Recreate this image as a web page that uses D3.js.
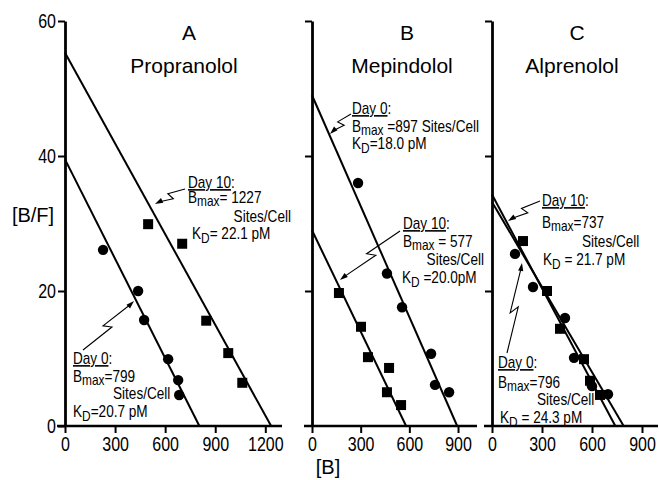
<!DOCTYPE html>
<html>
<head>
<meta charset="utf-8">
<script src="https://cdn.jsdelivr.net/npm/d3@7"></script>
<style>
  body { margin: 0; background: #fff; }
  svg { display: block; }
  text { font-family: "Liberation Sans", Arial, sans-serif; fill: #000; }
  .tick text { font-size: 20px; }
</style>
</head>
<body>
<div id="chart"></div>
<script>
// panel letters and drug names
const panelLetters = ["A", "B", "C"];
const drugNames = ["Propranolol", "Mepindolol", "Alprenolol"];
const yTicks = [0, 20, 40, 60];
const xTicksA = [0, 300, 600, 900, 1200];
const xTicksB = [0, 300, 600, 900];
const xTicksC = [0, 300, 600, 900];

// Scatchard points [B, B/F]; day 0 = circles, day 10 = squares
const aDay0 = [[228, 26.1], [438, 20.0], [474, 15.7], [618, 9.9], [678, 6.8], [684, 4.6]];
const aDay10 = [[498, 29.9], [702, 27.0], [846, 15.6], [978, 10.8], [1062, 6.4]];
const bDay0 = [[284, 36.0], [462, 22.6], [555, 17.6], [734, 10.7], [758, 6.1], [845, 5.0]];
const bDay10 = [[166, 19.7], [302, 14.7], [345, 10.2], [475, 8.6], [462, 5.0], [549, 3.1]];
const cDay0 = [[138, 25.5], [246, 20.6], [438, 16.0], [492, 10.1], [600, 5.9], [696, 4.7]];
const cDay10 = [[186, 27.4], [330, 20.0], [408, 14.4], [552, 9.9], [588, 6.7], [648, 4.6]];

// fitted lines [y-intercept, Bmax]: day 0, day 10
const fitA = [[39.5, 805], [55.3, 1235]];
const fitB = [[49.0, 895], [29.0, 580]];
const fitC = [[33.2, 790], [34.3, 740]];

// annotation text: [day, text after B_max, text after K_D]
const notesA = [["Day 0", "=799", "=20.7 pM"], ["Day 10", "= 1227", "= 22.1 pM"]];
const notesB = [["Day 0", " =897 Sites/Cell", "=18.0 pM"], ["Day 10", " = 577", " =20.0pM"]];
const notesC = [["Day 0", "=796", " = 24.3 pM"], ["Day 10", "=737", " = 21.7 pM"]];

const width = 659, height = 480;
const svg = d3.select("#chart").append("svg")
  .attr("width", width).attr("height", height);

const y = d3.scaleLinear().domain([0, 60]).range([426, 21]);

const panels = [
  { xd: [0, 1300], xr: [65, 282], ticks: xTicksA, pts: [aDay0, aDay10], fit: fitA, notes: notesA, labels: true },
  { xd: [0, 1017], xr: [312, 477], ticks: xTicksB, pts: [bDay0, bDay10], fit: fitB, notes: notesB, labels: false },
  { xd: [0, 996], xr: [492, 658], ticks: xTicksC, pts: [cDay0, cDay10], fit: fitC, notes: notesC, labels: false }
];

// where each annotation block sits, and its arrow (text end -> line end)
const noteLayout = [
  [ // A
    { day: [73, 364], bmax: [73, 382], sites: [113, 399, "start"], kd: [73, 417], arrow: [83, 350, 134, 301] },
    { day: [188, 188], bmax: [188, 203], sites: [291, 222, "end"], kd: [192, 239], arrow: [185, 189, 155, 204] }
  ],
  [ // B
    { day: [352, 114], bmax: [352, 132], sites: null, kd: [352, 149], arrow: [351, 114, 330, 134] },
    { day: [403, 229], bmax: [403, 247], sites: [484, 265, "end"], kd: [402, 283], arrow: [400, 231, 340, 280] }
  ],
  [ // C
    { day: [498, 368], bmax: [498, 388], sites: [537, 405, "start"], kd: [500, 423], arrow: [507, 353, 522, 263] },
    { day: [542, 206], bmax: [542, 228], sites: [582, 247, "start"], kd: [543, 265], arrow: [540, 201, 508, 221] }
  ]
];

// narrow the regular font so it looks like the condensed lettering of the figure
function squeeze(sel, f) {
  sel.each(function () {
    const s = d3.select(this);
    const x0 = +s.attr("x") || 0;
    s.attr("x", x0 / f).attr("transform", `scale(${f},1)`);
  });
}

function zigArrow(g, x1, y1, x2, y2) {
  const dx = x2 - x1, dy = y2 - y1;
  const len = Math.hypot(dx, dy);
  const ux = dx / len, uy = dy / len;
  const nx = -uy, ny = ux;
  const p = t => [x1 + dx * t, y1 + dy * t];
  const m1 = p(0.52), m2 = p(0.44);
  const pts = [[x1, y1],
    [m1[0] + nx * 3.5, m1[1] + ny * 3.5],
    [m2[0] - nx * 3.5, m2[1] - ny * 3.5],
    [x2 - ux * 5, y2 - uy * 5]];
  g.append("path")
    .attr("d", d3.line()(pts))
    .attr("fill", "none").attr("stroke", "#000").attr("stroke-width", 1.1);
  const hl = 8, hw = 2.6;
  const bx = x2 - ux * hl, by = y2 - uy * hl;
  g.append("path")
    .attr("d", d3.line()([[x2, y2], [bx + nx * hw, by + ny * hw], [bx - nx * hw, by - ny * hw]]) + "Z")
    .attr("fill", "#000");
}

panels.forEach((p, i) => {
  const x = d3.scaleLinear().domain(p.xd).range(p.xr);
  const g = svg.append("g");

  // x axis
  const xAxis = g.append("g")
    .attr("transform", `translate(0,${y(0)})`)
    .call(d3.axisBottom(x).tickValues(p.ticks).tickFormat(d3.format("d"))
      .tickSize(7).tickSizeOuter(0).tickPadding(4));
  xAxis.select(".domain").remove();
  xAxis.selectAll(".tick line").attr("stroke-width", 2);
  squeeze(xAxis.selectAll(".tick text"), 0.8);
  g.append("line")
    .attr("x1", x(0) - 8).attr("x2", p.xr[1])
    .attr("y1", y(0)).attr("y2", y(0))
    .attr("stroke", "#000").attr("stroke-width", 2.5);

  // y axis
  const yAxis = g.append("g")
    .attr("transform", `translate(${x(0)},0)`)
    .call(d3.axisLeft(y).tickValues(p.labels ? yTicks : yTicks.slice(1)).tickSize(7).tickSizeOuter(0).tickPadding(2));
  yAxis.select(".domain").attr("stroke-width", 2.8);
  yAxis.selectAll(".tick line").attr("stroke-width", 2);
  if (!p.labels) yAxis.selectAll(".tick text").remove();
  else squeeze(yAxis.selectAll(".tick text"), 0.8);

  // fitted lines
  p.fit.forEach(f => {
    g.append("line")
      .attr("x1", x(0)).attr("y1", y(f[0]))
      .attr("x2", x(f[1])).attr("y2", y(0))
      .attr("stroke", "#000").attr("stroke-width", 2);
  });

  // day 0 circles
  g.selectAll(".c").data(p.pts[0]).enter().append("circle")
    .attr("cx", d => x(d[0])).attr("cy", d => y(d[1]))
    .attr("r", 5.2).attr("fill", "#000");
  // day 10 squares
  g.selectAll(".s").data(p.pts[1]).enter().append("rect")
    .attr("x", d => x(d[0]) - 5).attr("y", d => y(d[1]) - 5)
    .attr("width", 10).attr("height", 10).attr("fill", "#000");

  // titles
  const cx = i === 0 ? 184 : i === 1 ? 402 : 572;
  g.append("text").attr("x", cx + 5).attr("y", 40).attr("text-anchor", "middle")
    .style("font-size", "21px").text(panelLetters[i]);
  g.append("text").attr("x", cx).attr("y", 73).attr("text-anchor", "middle")
    .style("font-size", "21px").text(drugNames[i]);

  // annotations
  p.notes.forEach((n, j) => {
    const L = noteLayout[i][j];
    const t = g.append("g").style("font-size", "16px");
    const d = t.append("text").attr("x", L.day[0]).attr("y", L.day[1]);
    d.append("tspan").style("text-decoration", "underline").text(n[0]);
    d.append("tspan").text(":");
    const b = t.append("text").attr("x", L.bmax[0]).attr("y", L.bmax[1]);
    b.append("tspan").text("B");
    b.append("tspan").attr("dy", 3).style("font-size", "14px").text("max");
    b.append("tspan").attr("dy", -3).text(n[1]);
    if (L.sites) {
      t.append("text").attr("x", L.sites[0]).attr("y", L.sites[1])
        .attr("text-anchor", L.sites[2]).text("Sites/Cell");
    }
    const k = t.append("text").attr("x", L.kd[0]).attr("y", L.kd[1]);
    k.append("tspan").text("K");
    k.append("tspan").attr("dy", 4).style("font-size", "14px").text("D");
    k.append("tspan").attr("dy", -4).text(n[2]);
    squeeze(t.selectAll("text"), 0.85);
    zigArrow(g, ...L.arrow);
  });
});

// axis titles
svg.append("text").attr("x", 33).attr("y", 222).attr("text-anchor", "middle")
  .style("font-size", "20px").text("[B/F]");
svg.append("text").attr("x", 328).attr("y", 474).attr("text-anchor", "middle")
  .style("font-size", "20px").text("[B]");
</script>
</body>
</html>
